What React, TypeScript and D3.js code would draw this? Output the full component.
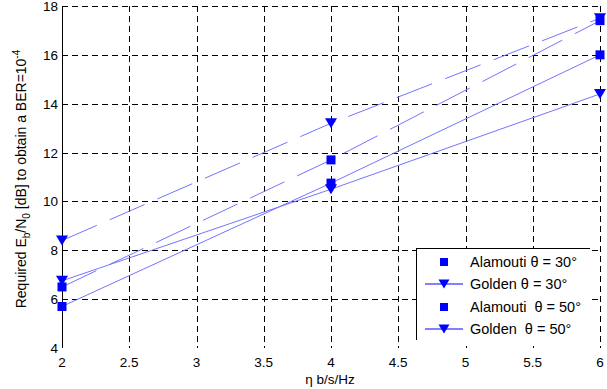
import React, { useEffect, useRef } from "react";
import * as d3 from "d3";

// spectral efficiency (b/s/Hz)
const eta = [2, 4, 6];

// required Eb/N0 [dB] for BER = 1e-4
const alamouti30 = [5.7, 10.75, 16.0];
const golden30 = [6.75, 10.5, 14.4];
const alamouti50 = [6.5, 11.7, 17.4];
const golden50 = [8.4, 13.2, 17.5];

const xTicks = [2, 2.5, 3, 3.5, 4, 4.5, 5, 5.5, 6];
const yTicks = [4, 6, 8, 10, 12, 14, 16, 18];

const legendLabels = ["Alamouti \u03b8 = 30\u00b0", "Golden \u03b8 = 30\u00b0", "Alamouti  \u03b8 = 50\u00b0", "Golden  \u03b8 = 50\u00b0"];

const W = 607;
const H = 389;
const FONT = "'Liberation Sans', Arial, sans-serif";

export default function App() {
  const ref = useRef<SVGSVGElement>(null);

  useEffect(() => {
    const svg = d3.select(ref.current);
    svg.selectAll("*").remove();

    const x = d3.scaleLinear().domain([2, 6]).range([62, 600]);
    const y = d3.scaleLinear().domain([4, 18]).range([348, 6]);

    // grid
    const grid = svg.append("g").attr("stroke", "#000").attr("stroke-width", 1).attr("stroke-dasharray", "6,4");
    grid
      .selectAll("line.h")
      .data(yTicks.filter((t) => t > 4))
      .enter()
      .append("line")
      .attr("x1", x(2))
      .attr("x2", x(6))
      .attr("y1", (d) => Math.round(y(d)) + 0.5)
      .attr("y2", (d) => Math.round(y(d)) + 0.5);
    grid
      .selectAll("line.v")
      .data(xTicks.filter((t) => t > 2))
      .enter()
      .append("line")
      .attr("x1", (d) => Math.round(x(d)) + 0.5)
      .attr("x2", (d) => Math.round(x(d)) + 0.5)
      .attr("y1", y(18))
      .attr("y2", y(4));

    // left axis line
    svg
      .append("line")
      .attr("x1", x(2) + 0.5)
      .attr("x2", x(2) + 0.5)
      .attr("y1", y(18))
      .attr("y2", y(4))
      .attr("stroke", "#000");

    // tick labels
    svg
      .append("g")
      .selectAll("text")
      .data(yTicks)
      .enter()
      .append("text")
      .attr("x", x(2) - 4)
      .attr("y", (d) => y(d) + 5)
      .attr("text-anchor", "end")
      .attr("font-family", FONT)
      .attr("font-size", 13.5)
      .text((d) => d);
    svg
      .append("g")
      .selectAll("text")
      .data(xTicks)
      .enter()
      .append("text")
      .attr("x", (d) => x(d))
      .attr("y", 367)
      .attr("text-anchor", "middle")
      .attr("font-family", FONT)
      .attr("font-size", 13.5)
      .text((d) => d);

    // axis titles
    svg
      .append("text")
      .attr("x", 330)
      .attr("y", 384)
      .attr("text-anchor", "middle")
      .attr("font-family", FONT)
      .attr("font-size", 13.5)
      .text("\u03b7 b/s/Hz");

    const yl = svg
      .append("text")
      .attr("transform", `translate(26,179) rotate(-90)`)
      .attr("text-anchor", "middle")
      .attr("font-family", FONT)
      .attr("font-size", 14);
    yl.append("tspan").text("Required E");
    yl.append("tspan").attr("dy", 4).attr("font-size", 10).text("b");
    yl.append("tspan").attr("dy", -4).text("/N");
    yl.append("tspan").attr("dy", 4).attr("font-size", 10).text("0");
    yl.append("tspan").attr("dy", -4).text(" [dB] to obtain a BER=10");
    yl.append("tspan").attr("dy", -6).attr("font-size", 10).text("-4");

    // series
    const series = [
      { vals: alamouti30, marker: "square", dash: null },
      { vals: golden30, marker: "tri", dash: null },
      { vals: alamouti50, marker: "square", dash: "38,14" },
      { vals: golden50, marker: "tri", dash: "38,14" },
    ];

    const line = d3
      .line<number>()
      .x((_, i) => x(eta[i]))
      .y((d) => y(d));

    const sq = d3.symbol(d3.symbolSquare, 81);
    const tri = (cx: number, cy: number, w: number, h: number) =>
      `M${cx - w / 2},${cy - h / 2}L${cx + w / 2},${cy - h / 2}L${cx},${cy + h / 2}Z`;

    series.forEach((s) => {
      svg
        .append("path")
        .attr("d", line(s.vals))
        .attr("fill", "none")
        .attr("stroke", "#7474ff")
        .attr("stroke-width", 1)
        .attr("stroke-dasharray", s.dash);
    });

    series.forEach((s) => {
      const g = svg.append("g").attr("fill", "#0000ff");
      s.vals.forEach((v, i) => {
        if (s.marker === "square") {
          g.append("path").attr("d", sq()).attr("transform", `translate(${x(eta[i])},${y(v)})`);
        } else {
          g.append("path").attr("d", tri(x(eta[i]), y(v), 12, 10));
        }
      });
    });

    // legend
    const lg = svg.append("g");
    lg.append("rect").attr("x", 416).attr("y", 248).attr("width", 174).attr("height", 94).attr("fill", "#fff");
    lg.append("line").attr("x1", 416).attr("x2", 590).attr("y1", 248.5).attr("y2", 248.5).attr("stroke", "#000");
    lg.append("line").attr("x1", 416.5).attr("x2", 416.5).attr("y1", 248).attr("y2", 340).attr("stroke", "#000");
    const rowY = [262, 284, 307, 329];
    legendLabels.forEach((lab, i) => {
      const cy = rowY[i];
      if (i % 2 === 1) {
        lg.append("line").attr("x1", 425).attr("x2", 463).attr("y1", cy).attr("y2", cy).attr("stroke", "#0000ff");
        lg.append("path").attr("d", tri(444, cy, 11, 9)).attr("fill", "#0000ff");
      } else {
        lg.append("rect").attr("x", 440).attr("y", cy - 4).attr("width", 8).attr("height", 8).attr("fill", "#0000ff");
      }
      lg.append("text")
        .attr("x", 470)
        .attr("y", cy + 5)
        .attr("font-family", FONT)
        .attr("font-size", 14.5)
        .style("white-space", "pre")
        .text(lab);
    });
  }, []);

  return (
    <div style={{ position: "fixed", left: 0, top: 0, width: W, height: H, background: "#fff" }}>
      <svg ref={ref} width={W} height={H} />
    </div>
  );
}
